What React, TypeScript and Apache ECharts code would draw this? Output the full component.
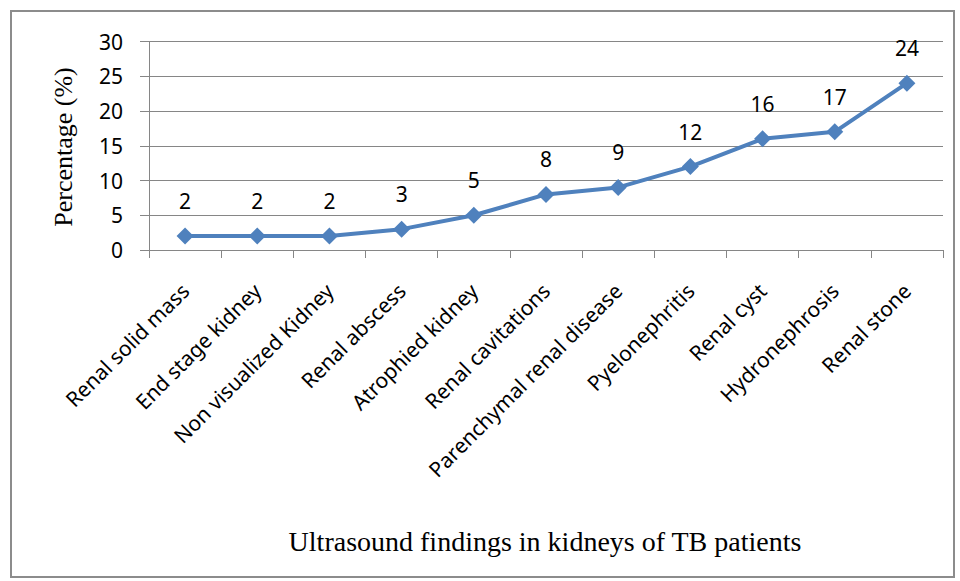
import React, { useEffect, useRef } from "react";
import * as echarts from "echarts";

const categories = [
  "Renal solid mass",
  "End stage kidney",
  "Non visualized Kidney",
  "Renal abscess",
  "Atrophied kidney",
  "Renal cavitations",
  "Parenchymal renal disease",
  "Pyelonephritis",
  "Renal cyst",
  "Hydronephrosis",
  "Renal stone",
];
const values = [2, 2, 2, 3, 5, 8, 9, 12, 16, 17, 24];
const yTitle = "Percentage (%)";
const xTitle = "Ultrasound findings in kidneys of TB patients";

export default function App() {
  const ref = useRef<HTMLDivElement>(null);
  useEffect(() => {
    document.body.style.margin = "0";
    if (!ref.current) return;
    const chart = echarts.init(ref.current, undefined, { renderer: "svg" });
    chart.setOption({
      animation: false,
      backgroundColor: "#ffffff",
      grid: { left: 149, right: 17, top: 41.5, bottom: 331, containLabel: false },
      graphic: [
        {
          type: "rect",
          shape: { x: 11, y: 11, width: 943, height: 566 },
          style: { fill: "none", stroke: "#8c8c8c", lineWidth: 2 },
          silent: true,
        },
        {
          type: "text",
          x: 63,
          y: 147,
          rotation: Math.PI / 2,
          style: {
            text: yTitle,
            font: '26px "Liberation Serif", "Times New Roman", serif',
            fill: "#000",
            align: "center",
            verticalAlign: "middle",
          },
        },
        {
          type: "text",
          x: 545,
          y: 541,
          style: {
            text: xTitle,
            font: '28px "Liberation Serif", "Times New Roman", serif',
            fill: "#000",
            align: "center",
            verticalAlign: "middle",
          },
        },
      ],
      xAxis: {
        type: "category",
        data: categories,
        boundaryGap: true,
        axisLine: { show: true, lineStyle: { color: "#868686", width: 1 } },
        axisTick: { show: true, length: 8, lineStyle: { color: "#868686" }, alignWithLabel: false },
        axisLabel: {
          rotate: 45,
          interval: 0,
          margin: 37,
          color: "#000",
          fontSize: 21,
          fontFamily: '"Noto Sans", "Open Sans", sans-serif',
        },
        splitLine: { show: false },
      },
      yAxis: {
        type: "value",
        min: 0,
        max: 30,
        interval: 5,
        axisLine: { show: true, lineStyle: { color: "#868686", width: 1 } },
        axisTick: { show: true, length: 9, lineStyle: { color: "#868686" } },
        axisLabel: {
          margin: 26,
          color: "#000",
          fontSize: 21,
          fontFamily: '"Noto Sans", "Open Sans", sans-serif',
        },
        splitLine: { show: true, lineStyle: { color: "#868686", width: 1 } },
      },
      series: [
        {
          type: "line",
          data: values,
          symbol: "diamond",
          symbolSize: 17,
          lineStyle: { color: "#4F81BD", width: 4 },
          itemStyle: { color: "#4F81BD" },
          label: {
            show: true,
            position: "top",
            distance: 16,
            color: "#000",
            fontSize: 21,
            fontFamily: '"Noto Sans", "Open Sans", sans-serif',
          },
        },
      ],
    });
    return () => chart.dispose();
  }, []);
  return <div ref={ref} style={{ width: 960, height: 581 }} />;
}
